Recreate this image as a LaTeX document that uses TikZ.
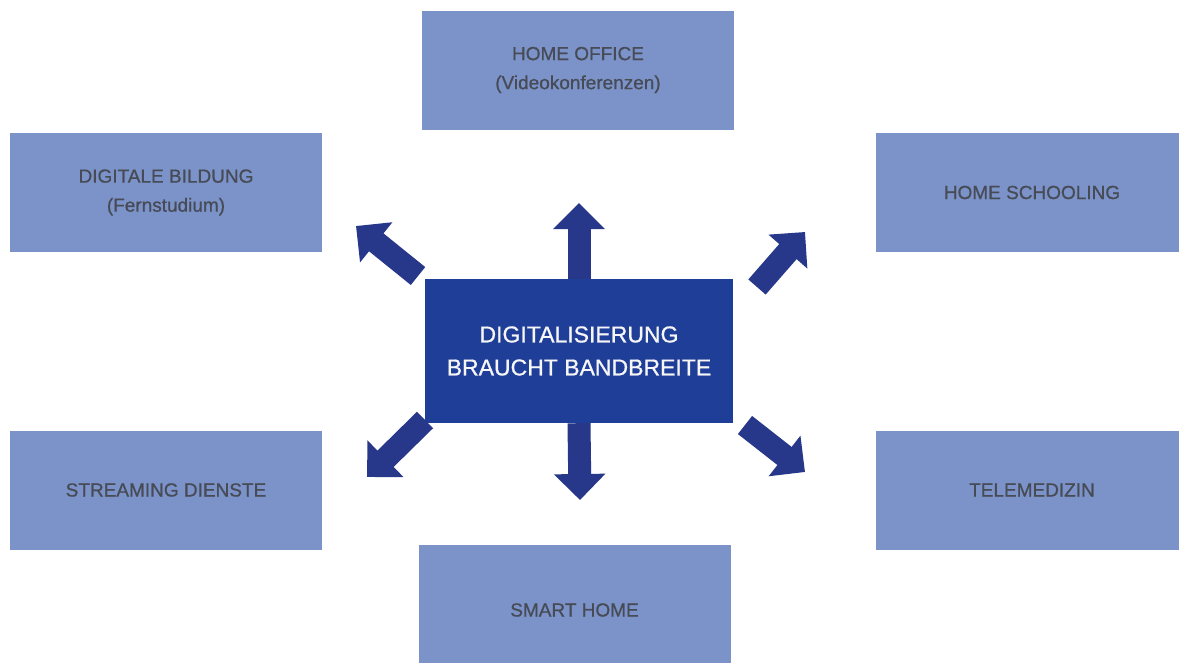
\documentclass[tikz,border=0pt]{standalone}
\usepackage{fontspec}
\setmainfont{Liberation Sans}
\newfontfamily\heavyfont[FakeBold=0.8]{Liberation Sans}
\usetikzlibrary{arrows.meta}
\definecolor{lightbox}{HTML}{7B93C9}
\definecolor{darkbox}{HTML}{1F3E98}
\definecolor{arrowcol}{HTML}{27388A}
\definecolor{labelgray}{HTML}{474B56}
\begin{document}
\begin{tikzpicture}[x=1pt,y=-1pt,
  lbox/.style={fill=lightbox, draw=none, minimum width=312pt, minimum height=119pt,
    inner sep=0pt, align=center, text=labelgray,
    font=\heavyfont\fontsize{19}{29}\selectfont},
  cbox/.style={fill=darkbox, draw=none, minimum width=308pt, minimum height=144pt,
    inner sep=0pt, align=center, text=white!93!gray,
    font=\heavyfont\fontsize{23}{33}\selectfont},
  bigarrow/.style={draw=arrowcol, line width=23pt,
    -{Triangle[width=50pt,length=26pt]}, arrowcol}
]
\fill[white] (0,0) rectangle (1179,662);
\useasboundingbox (0,0) rectangle (1179,662);

\node[cbox] (c) at (579,351) {DIGITALISIERUNG\\BRAUCHT BANDBREITE};

\node[lbox] (ho) at (578,70) {HOME OFFICE\\(Videokonferenzen)};
\node[lbox] (db) at (166,192.5) {DIGITALE BILDUNG\\(Fernstudium)};
\node[lbox] (hs) at (1032,192.5) {HOME SCHOOLING};
\node[lbox] (sd) at (166,490) {STREAMING DIENSTE};
\node[lbox] (tm) at (1032,490) {TELEMEDIZIN};
\node[lbox, minimum height=130pt] (sh) at (574.5,610) {SMART HOME};

% arrow ends
\coordinate (tipN) at (579,203);
\coordinate (tipS) at (580,500);
\coordinate (tailUL) at (418,276);
\coordinate (tipUL) at (356,226);
\coordinate (tailUR) at (757,287);
\coordinate (tipUR) at (805,232);
\coordinate (tailLL) at (425,420);
\coordinate (tipLL) at (367,477);
\coordinate (tailLR) at (745,425);
\coordinate (tipLR) at (805,472);

\draw[bigarrow] (c.north) -- (tipN);
\draw[bigarrow] (c.south) -- (tipS);
\draw[bigarrow] (tailUL) -- (tipUL);
\draw[bigarrow] (tailUR) -- (tipUR);
\draw[bigarrow] (tailLL) -- (tipLL);
\draw[bigarrow] (tailLR) -- (tipLR);
\end{tikzpicture}
\end{document}
